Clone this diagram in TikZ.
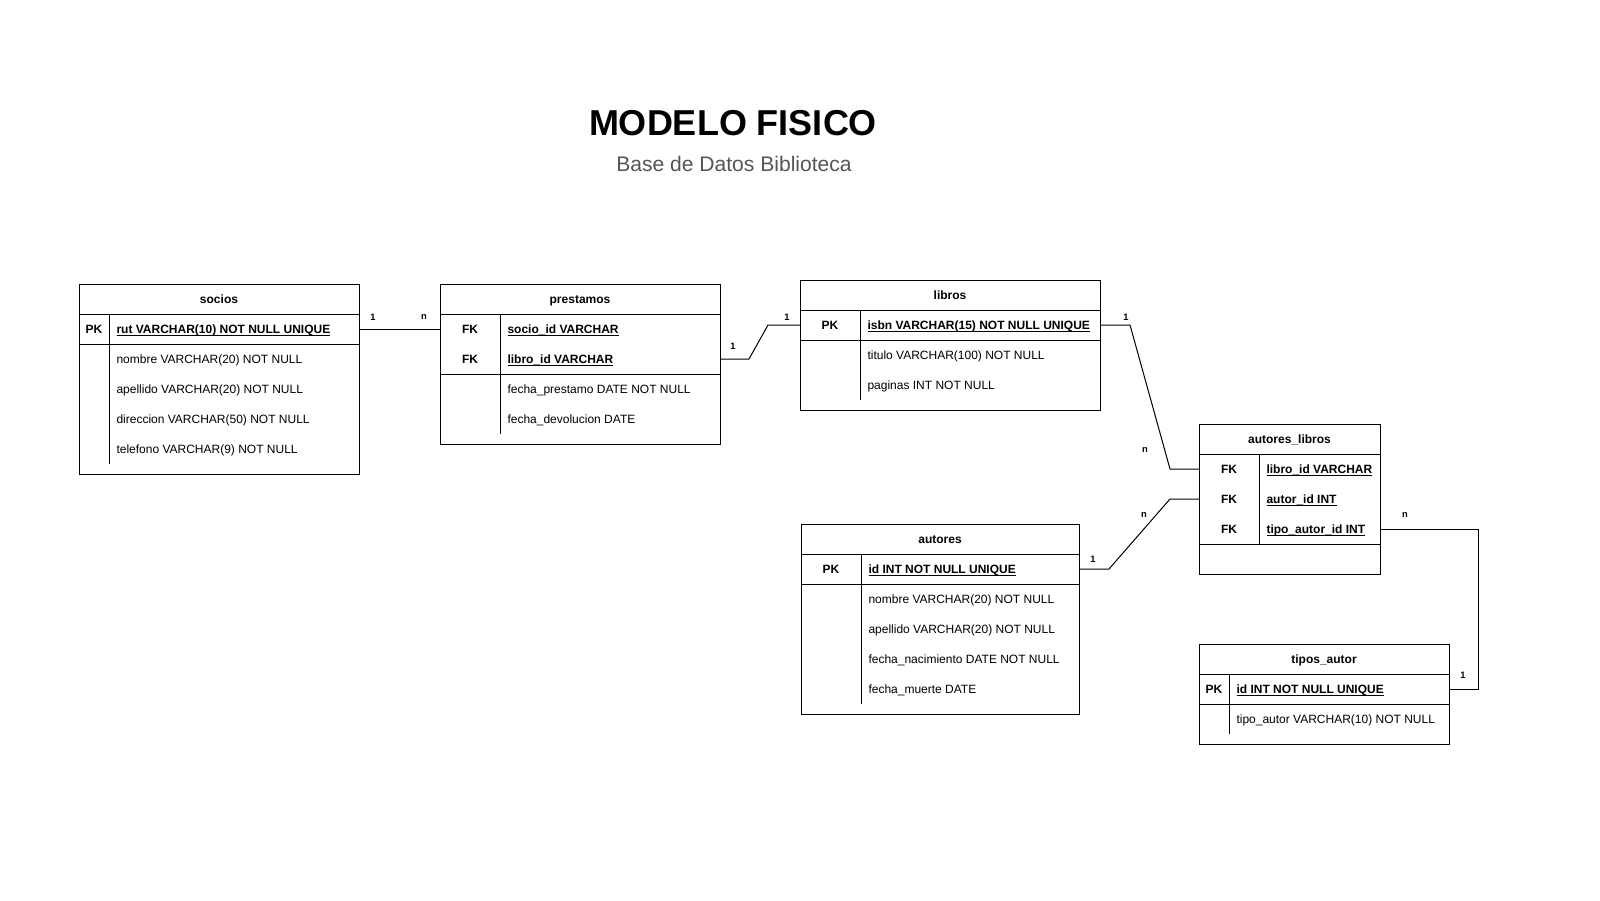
\documentclass[tikz,border=0pt]{standalone}
\usepackage{fontspec}
\setmainfont{Liberation Sans}

\definecolor{subtitlegray}{RGB}{85,85,85}
\newcommand{\keyline}[1]{\underline{\smash{#1}}}

\tikzset{every picture/.style={line width=0.75pt}}
\tikzset{
  tablebox/.style={draw, rectangle, anchor=north west, inner sep=0pt, outer sep=0pt},
  tablehead/.style={font=\fontsize{9}{11}\selectfont\bfseries, inner sep=0pt, text height=7.2pt, text depth=0pt},
  keytag/.style={tablehead},
  field/.style={font=\fontsize{9}{11}\selectfont, anchor=west, inner sep=0pt, text height=7.2pt, text depth=0pt},
  keyfield/.style={field, font=\fontsize{9}{11}\selectfont\bfseries},
  card/.style={font=\fontsize{7}{8}\selectfont\bfseries, inner sep=0pt}
}

\begin{document}
\begin{tikzpicture}[x=0.75pt,y=0.75pt,yscale=-1,xscale=1]
\useasboundingbox (0,0) rectangle (1600,900);

% Text Node
\node[anchor=base, font=\fontsize{27}{31}\selectfont\bfseries] (title) at (733,135) {MODELO FISICO};
% Text Node
\node[anchor=base, font=\fontsize{15.8}{18}\selectfont, text=subtitlegray] (subtitle) at (734,171) {Base de Datos Biblioteca};

%Table: socios
\node[tablebox, minimum width=210pt, minimum height=142.5pt] (socios) at (79,284) {};
\draw (79,314) -- (359,314) ;
\draw (79,344) -- (359,344) ;
\draw (109,314) -- (109,464) ;
\node[tablehead] (socios-head) at (219,299) {socios};
\node[keytag] (socios-pk) at (94,329) {PK};
\node[keyfield] (socios-rut) at (116,329) {\keyline{rut VARCHAR(10) NOT NULL UNIQUE}};
\node[field] (socios-nombre) at (116,359) {nombre VARCHAR(20) NOT NULL};
\node[field] (socios-apellido) at (116,389) {apellido VARCHAR(20) NOT NULL};
\node[field] (socios-direccion) at (116,419) {direccion VARCHAR(50) NOT NULL};
\node[field] (socios-telefono) at (116,449) {telefono VARCHAR(9) NOT NULL};

%Table: prestamos
\node[tablebox, minimum width=210pt, minimum height=120pt] (prestamos) at (440,284) {};
\draw (440,314) -- (720,314) ;
\draw (440,374) -- (720,374) ;
\draw (500,314) -- (500,434) ;
\node[tablehead] (prestamos-head) at (580,299) {prestamos};
\node[keytag] (prestamos-fk1) at (470,329) {FK};
\node[keytag] (prestamos-fk2) at (470,359) {FK};
\node[keyfield] (prestamos-socio) at (507,329) {\keyline{socio\_id VARCHAR}};
\node[keyfield] (prestamos-libro) at (507,359) {\keyline{libro\_id VARCHAR}};
\node[field] (prestamos-fecha) at (507,389) {fecha\_prestamo DATE NOT NULL};
\node[field] (prestamos-devol) at (507,419) {fecha\_devolucion DATE};

%Table: libros
\node[tablebox, minimum width=225pt, minimum height=97.5pt] (libros) at (800,280) {};
\draw (800,310) -- (1100,310) ;
\draw (800,340) -- (1100,340) ;
\draw (860,310) -- (860,400) ;
\node[tablehead] (libros-head) at (950,295) {libros};
\node[keytag] (libros-pk) at (830,325) {PK};
\node[keyfield] (libros-isbn) at (867,325) {\keyline{isbn VARCHAR(15) NOT NULL UNIQUE}};
\node[field] (libros-titulo) at (867,355) {titulo VARCHAR(100) NOT NULL};
\node[field] (libros-paginas) at (867,385) {paginas INT NOT NULL};

%Table: autores_libros
\node[tablebox, minimum width=135.75pt, minimum height=112.5pt] (autoreslibros) at (1199,424) {};
\draw (1199,454) -- (1380,454) ;
\draw (1199,544) -- (1380,544) ;
\draw (1259,454) -- (1259,544) ;
\node[tablehead] (al-head) at (1289.5,439) {autores\_libros};
\node[keytag] (al-fk1) at (1229,469) {FK};
\node[keytag] (al-fk2) at (1229,499) {FK};
\node[keytag] (al-fk3) at (1229,529) {FK};
\node[keyfield] (al-libro) at (1266,469) {\keyline{libro\_id VARCHAR}};
\node[keyfield] (al-autor) at (1266,499) {\keyline{autor\_id INT}};
\node[keyfield] (al-tipo) at (1266,529) {\keyline{tipo\_autor\_id INT}};

%Table: autores
\node[tablebox, minimum width=208.5pt, minimum height=142.5pt] (autores) at (801,524) {};
\draw (801,554) -- (1079,554) ;
\draw (801,584) -- (1079,584) ;
\draw (861,554) -- (861,704) ;
\node[tablehead] (autores-head) at (940,539) {autores};
\node[keytag] (autores-pk) at (831,569) {PK};
\node[keyfield] (autores-id) at (868,569) {\keyline{id INT NOT NULL UNIQUE}};
\node[field] (autores-nombre) at (868,599) {nombre VARCHAR(20) NOT NULL};
\node[field] (autores-apellido) at (868,629) {apellido VARCHAR(20) NOT NULL};
\node[field] (autores-nac) at (868,659) {fecha\_nacimiento DATE NOT NULL};
\node[field] (autores-muerte) at (868,689) {fecha\_muerte DATE};

%Table: tipos_autor
\node[tablebox, minimum width=187.5pt, minimum height=75pt] (tipos) at (1199,644) {};
\draw (1199,674) -- (1449,674) ;
\draw (1199,704) -- (1449,704) ;
\draw (1229,674) -- (1229,734) ;
\node[tablehead] (tipos-head) at (1324,659) {tipos\_autor};
\node[keytag] (tipos-pk) at (1214,689) {PK};
\node[keyfield] (tipos-id) at (1236,689) {\keyline{id INT NOT NULL UNIQUE}};
\node[field] (tipos-nombre) at (1236,719) {tipo\_autor VARCHAR(10) NOT NULL};

%Straight Lines: socios - prestamos
\draw (socios.east |- socios-rut) -- (prestamos.west |- prestamos-socio) ;
\node[card] (c-socios) at (373,317) {1};
\node[card] (c-prestamos-n) at (424,317) {n};

%Straight Lines: prestamos - libros
\draw (prestamos.east |- prestamos-libro) -- ++(29,0) -- ++(19,-34) -- (libros.west |- libros-isbn) ;
\node[card] (c-prestamos-1) at (733,346) {1};
\node[card] (c-libros-1) at (787,317) {1};

%Straight Lines: libros - autores_libros
\draw (libros.east |- libros-isbn) -- ++(30,0) -- ++(40,144) -- (autoreslibros.west |- al-libro) ;
\node[card] (c-libros-2) at (1126,317) {1};
\node[card] (c-al-libro) at (1145,450) {n};

%Straight Lines: autores - autores_libros
\draw (autores.east |- autores-id) -- ++(30,0) -- ++(61,-70) -- (autoreslibros.west |- al-autor) ;
\node[card] (c-autores) at (1093,559) {1};
\node[card] (c-al-autor) at (1144,515) {n};

%Straight Lines: autores_libros - tipos_autor
\draw (autoreslibros.east |- al-tipo) -- ++(98,0) |- (tipos.east |- tipos-id) ;
\node[card] (c-al-tipo) at (1405,515) {n};
\node[card] (c-tipos) at (1463,675) {1};

\end{tikzpicture}
\end{document}
